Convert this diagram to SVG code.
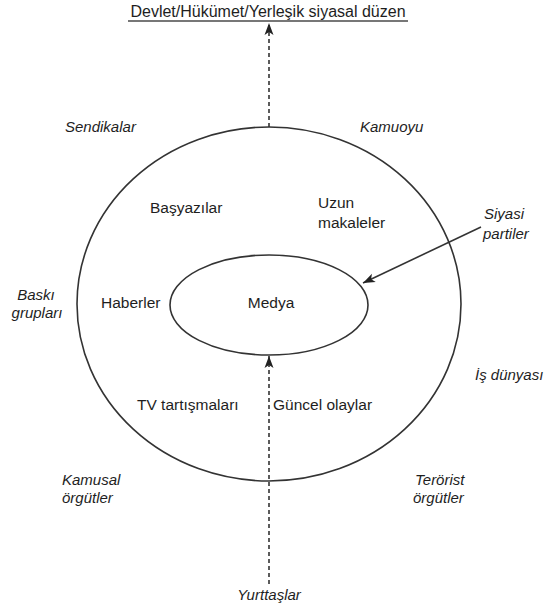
<svg xmlns="http://www.w3.org/2000/svg" width="547" height="607" viewBox="0 0 547 607">
<style>
text{font-family:"Liberation Sans",Arial,sans-serif;font-size:15.5px;fill:#1e1e1e}
.i{font-style:italic;font-size:15px}
.t{font-size:16px}
.ln{fill:none;stroke:#333;stroke-width:1.6}
.d{stroke-dasharray:4,3}
</style>
<defs>
<marker id="ah" viewBox="0 0 12 10" refX="12" refY="5" markerWidth="12" markerHeight="10" markerUnits="userSpaceOnUse" orient="auto">
<path d="M0,0.5 L12,5 L0,9.5 L3,5 Z" fill="#222"/>
</marker>
</defs>
<g id="title">
<text class="t" x="268" y="17" text-anchor="middle">Devlet/Hükümet/Yerleşik siyasal düzen</text>
<line x1="128" y1="21" x2="408" y2="21" stroke="#777" stroke-width="2"/>
</g>
<g id="outer"><ellipse class="ln" cx="269" cy="304" rx="192" ry="177"/></g>
<g id="medya"><ellipse class="ln" cx="269" cy="305" rx="99" ry="50"/>
<text x="271" y="308" text-anchor="middle">Medya</text></g>
<g id="connectors">
<line class="ln d" x1="269" y1="127" x2="269" y2="23" marker-end="url(#ah)"/>
<line class="ln d" x1="269" y1="584" x2="269" y2="356" marker-end="url(#ah)"/>
<line class="ln" x1="481" y1="227" x2="363" y2="283" marker-end="url(#ah)"/>
</g>
<g id="sendikalar"><text class="i" x="65" y="132">Sendikalar</text></g>
<g id="kamuoyu"><text class="i" x="360" y="132">Kamuoyu</text></g>
<g id="basyazilar"><text x="150" y="213">Başyazılar</text></g>
<g id="uzun"><text x="318" y="208">Uzun</text><text x="318" y="228">makaleler</text></g>
<g id="siyasi"><text class="i" x="484" y="219">Siyasi</text><text class="i" x="483" y="239">partiler</text></g>
<g id="baski"><text class="i" x="36" y="300" text-anchor="middle">Baskı</text><text class="i" x="37" y="318" text-anchor="middle">grupları</text></g>
<g id="haberler"><text x="101" y="308">Haberler</text></g>
<g id="tv"><text x="137" y="410">TV tartışmaları</text></g>
<g id="guncel"><text x="273" y="410">Güncel olaylar</text></g>
<g id="isdunyasi"><text class="i" x="475" y="380">İş dünyası</text></g>
<g id="kamusal"><text class="i" x="62" y="485">Kamusal</text><text class="i" x="62" y="503">örgütler</text></g>
<g id="terorist"><text class="i" x="415" y="485">Terörist</text><text class="i" x="413" y="503">örgütler</text></g>
<g id="yurttaslar"><text class="i" x="269" y="600" text-anchor="middle">Yurttaşlar</text></g>
</svg>
